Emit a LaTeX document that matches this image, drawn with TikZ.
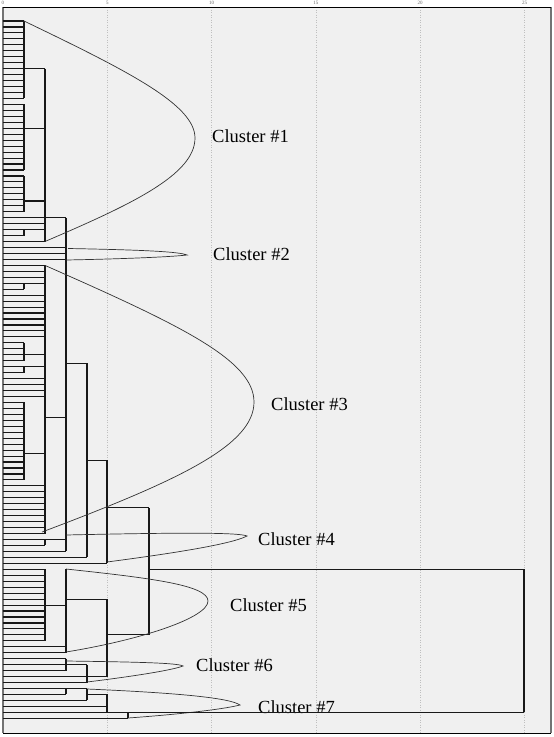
\documentclass[tikz,border=0pt]{standalone}
\usepackage{fontspec}
\setmainfont{Liberation Serif}
\usepackage{tikz}
\usetikzlibrary{calc}
\definecolor{plotbg}{HTML}{F0F0F0}
\tikzstyle{branch}=[draw,black!90,line width=1.1pt]
\tikzstyle{hull}=[draw,black!80,line width=0.7pt]
\tikzstyle{gridline}=[draw,black!25,dotted,line width=0.5pt]
\tikzstyle{clustername}=[anchor=west,inner sep=0pt,font=\fontsize{18.5}{20}\selectfont]
\tikzstyle{ticklabel}=[inner sep=0pt,text=black!60,font=\fontsize{5}{6}\selectfont]

\begin{document}
\begin{tikzpicture}[x=1pt,y=-1pt]
    \useasboundingbox (0,0) rectangle (554,737);
    \fill[plotbg] (3,7) rectangle (551,733);

    % scale and grid
    \foreach \val/\pos in {0/3, 5/107.3, 10/211.6, 15/315.9, 20/420.2, 25/524.5} {
        \draw[gridline] (\pos,7) -- (\pos,733);
        \node[ticklabel] (t\val) at (\pos,3) {\val};
    }
    \draw[black!55,line width=1.4pt] (3,7) -- (3,733);
    \draw[black!55,line width=1.2pt] (551,7) -- (551,733);
    \draw[black,line width=1pt] (3,7) -- (551,7);
    \draw[black,line width=1pt] (3,733) -- (551,733);

    % leaves: first/last index / merge level
    \foreach \a/\b/\x in {0/13/24, 14/25/24, 26/32/24, 33/34/45, 35/36/24, 37/37/45,
        38/40/66, 41/43/45, 44/45/24, 46/53/45, 54/57/24, 58/59/24, 60/63/45,
        64/77/24, 78/86/45, 87/88/45, 89/89/66, 90/90/87, 91/91/107, 92/104/45,
        105/106/66, 107/109/66, 110/111/87, 112/113/66, 114/114/87, 115/116/107,
        117/117/128}
        \foreach \i in {\a,...,\b}
            \path[branch] (3,{21+5.96*\i}) -- (\x,{21+5.96*\i});

    % vertical bars of the merges
    \foreach \x/\a/\b in {24/0/13, 24/14/25, 24/26/32, 24/35/36, 45/8/37, 24/44/45,
        24/54/57, 24/58/59, 24/64/77, 45/41/86, 45/87/88, 66/33/89, 87/57.4/90,
        107/73.7/91, 149/81.7/103, 45/92/104, 66/92/106, 107/97/110, 66/107/109,
        87/108/111, 66/112/113, 87/112/114, 107/113/116, 128/116/117, 524/92/116}
        \path[branch] (\x,{21+5.96*\a}) -- (\x,{21+5.96*\b});

    % links between merge levels
    \foreach \from/\to/\i in {24/45/8, 24/45/18.1, 24/45/30.2, 45/66/33, 24/45/35,
        24/45/44, 24/45/56, 24/45/58, 24/45/72.5, 45/66/66.6, 45/66/87, 66/87/57.4,
        87/107/73.7, 107/149/81.7, 45/66/98, 66/107/97, 107/149/103, 149/524/92,
        66/87/108, 87/107/110, 66/87/112, 87/107/113, 107/128/116, 128/524/116}
        \path[branch] (\from,{21+5.96*\i}) -- (\to,{21+5.96*\i});

    % cluster outlines
    \draw[hull] (24,21) .. controls (130,72) and (195,105) .. (195,138)
        .. controls (195,175) and (130,205) .. (45,241.5);
    \draw[hull] (68,248.5) .. controls (150,250) and (180,252) .. (187,255)
        .. controls (170,257) and (120,259) .. (66,260);
    \draw[hull] (45,265.4) .. controls (180,325) and (254,360) .. (254,402)
        .. controls (254,445) and (180,480) .. (42,532);
    \draw[hull] (66,535) .. controls (200,532) and (240,533) .. (247,536)
        .. controls (230,545) and (160,555) .. (107,562);
    \draw[hull] (66,569) .. controls (150,578) and (208,585) .. (208,601)
        .. controls (208,618) and (140,640) .. (66,652);
    \draw[hull] (66,661) .. controls (140,662) and (178,663) .. (183,666)
        .. controls (170,671) and (120,678) .. (87,682);
    \draw[hull] (87,689) .. controls (180,693) and (230,698) .. (240,705)
        .. controls (220,710) and (170,715) .. (128,718);

    \node[clustername] (c1) at (212,136) {Cluster \#1};
    \node[clustername] (c2) at (213,254) {Cluster \#2};
    \node[clustername] (c3) at (271,404) {Cluster \#3};
    \node[clustername] (c4) at (258,539) {Cluster \#4};
    \node[clustername] (c5) at (230,605) {Cluster \#5};
    \node[clustername] (c6) at (196,665) {Cluster \#6};
    \node[clustername] (c7) at (258,707) {Cluster \#7};

    % final merge line drawn over the last label
    \path[branch] (128,{21+5.96*116}) -- (524,{21+5.96*116});
\end{tikzpicture}
\end{document}
